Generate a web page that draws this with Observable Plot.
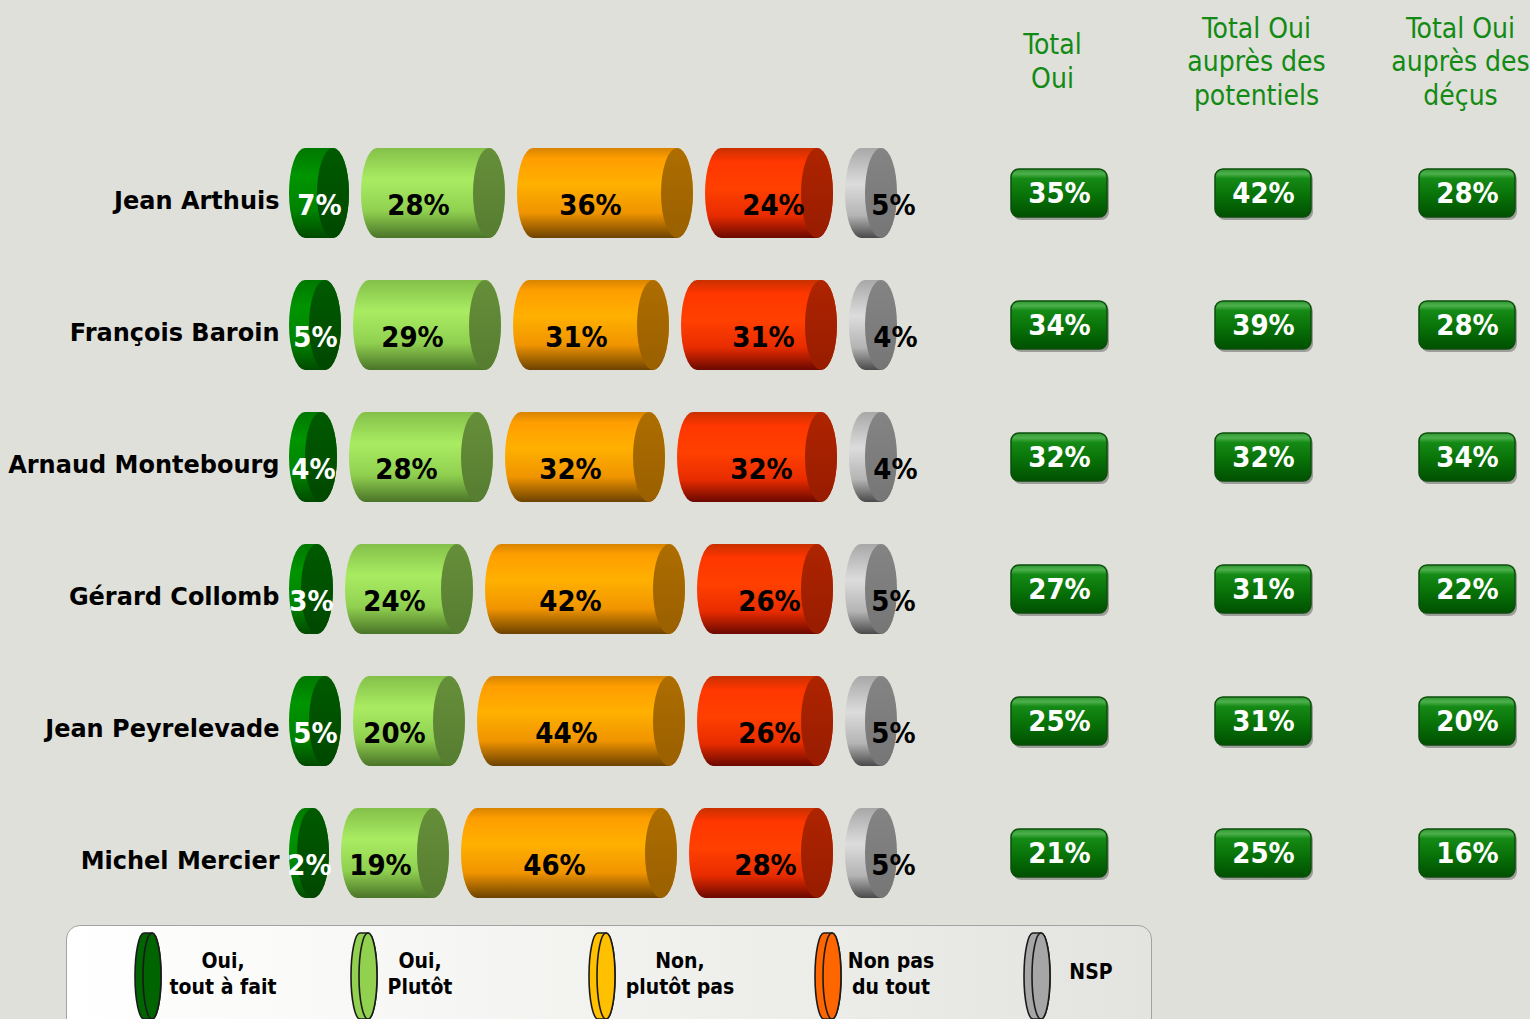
<!DOCTYPE html>
<html>
<head>
<meta charset="utf-8">
<script src="https://cdn.jsdelivr.net/npm/d3@7"></script>
<script src="https://cdn.jsdelivr.net/npm/@observablehq/plot@0.6"></script>
<style>
html, body { margin: 0; padding: 0; background: #dfe0da; overflow: hidden; }
#page { position: relative; width: 1530px; height: 1019px; background: #dfe0da; font-family: "DejaVu Sans", sans-serif; overflow: hidden; }
#bars { position: absolute; left: 0; top: 0; }
#totals { position: absolute; left: 950px; top: 0; }
#legend { position: absolute; left: 66px; top: 925px; width: 1084px; height: 130px; border: 1.5px solid #a3a3a3; border-radius: 14px;
  background: linear-gradient(to right, #ffffff 0%, #f6f6f4 35%, #e3e3df 100%); }
.lg-icon { position: absolute; top: 931px; }
.lg-text { position: absolute; width: 180px; text-align: center; font-family: "DejaVu Sans Condensed", "DejaVu Sans", sans-serif; font-stretch: condensed;
  font-weight: bold; font-size: 21px; line-height: 26px; color: #000; }
</style>
</head>
<body>
<svg width="0" height="0" style="position:absolute">
  <defs>
    <linearGradient id="body0" x1="0" y1="0" x2="0" y2="1">
      <stop offset="0" stop-color="#007800"/><stop offset="0.3" stop-color="#009400"/><stop offset="0.7" stop-color="#008200"/><stop offset="1" stop-color="#004a00"/>
    </linearGradient>
    <linearGradient id="cap0" x1="0" y1="0" x2="0" y2="1">
      <stop offset="0" stop-color="#005a00"/><stop offset="1" stop-color="#004800"/>
    </linearGradient>
    <linearGradient id="body1" x1="0" y1="0" x2="0" y2="1">
      <stop offset="0" stop-color="#84c04a"/><stop offset="0.35" stop-color="#a9ec62"/><stop offset="0.7" stop-color="#90d050"/><stop offset="1" stop-color="#4a7428"/>
    </linearGradient>
    <linearGradient id="cap1" x1="0" y1="0" x2="0" y2="1">
      <stop offset="0" stop-color="#668f3a"/><stop offset="1" stop-color="#567d30"/>
    </linearGradient>
    <linearGradient id="body2" x1="0" y1="0" x2="0" y2="1">
      <stop offset="0" stop-color="#d88400"/><stop offset="0.12" stop-color="#ff9e00"/><stop offset="0.4" stop-color="#ffb000"/><stop offset="0.72" stop-color="#f09400"/><stop offset="1" stop-color="#6c4200"/>
    </linearGradient>
    <linearGradient id="cap2" x1="0" y1="0" x2="0" y2="1">
      <stop offset="0" stop-color="#ad6d00"/><stop offset="1" stop-color="#9a6000"/>
    </linearGradient>
    <linearGradient id="body3" x1="0" y1="0" x2="0" y2="1">
      <stop offset="0" stop-color="#c83000"/><stop offset="0.15" stop-color="#ff3600"/><stop offset="0.45" stop-color="#ff4000"/><stop offset="0.75" stop-color="#e82c00"/><stop offset="1" stop-color="#6a0800"/>
    </linearGradient>
    <linearGradient id="cap3" x1="0" y1="0" x2="0" y2="1">
      <stop offset="0" stop-color="#ae2400"/><stop offset="1" stop-color="#981c00"/>
    </linearGradient>
    <linearGradient id="body4" x1="0" y1="0" x2="0" y2="1">
      <stop offset="0" stop-color="#a8a8a8"/><stop offset="0.4" stop-color="#dcdcdc"/><stop offset="0.75" stop-color="#b4b4b4"/><stop offset="1" stop-color="#4a4a4a"/>
    </linearGradient>
    <linearGradient id="cap4" x1="0" y1="0" x2="0" y2="1">
      <stop offset="0" stop-color="#848484"/><stop offset="1" stop-color="#767676"/>
    </linearGradient>
    <linearGradient id="btn" x1="0" y1="0" x2="0" y2="1">
      <stop offset="0" stop-color="#2f962f"/><stop offset="0.1" stop-color="#4cb04c"/><stop offset="0.2" stop-color="#158a15"/><stop offset="0.55" stop-color="#087208"/><stop offset="1" stop-color="#005000"/>
    </linearGradient>
  </defs>
</svg>
<div id="page">
  <div id="legend"></div>
  <div id="bars"></div>
  <div id="totals"></div>
</div>
<script>
// ---- data ----
const names = ["Jean Arthuis", "François Baroin", "Arnaud Montebourg", "Gérard Collomb", "Jean Peyrelevade", "Michel Mercier"];
const categories = ["Oui, tout à fait", "Oui, Plutôt", "Non, plutôt pas", "Non pas du tout", "NSP"];
const legendLabels = ["Oui,\ntout à fait", "Oui,\nPlutôt", "Non,\nplutôt pas", "Non pas\ndu tout", "NSP"];
const legendColors = ["#006400", "#92d050", "#ffc000", "#ff6600", "#a6a6a6"];
const toutAFait = [7, 5, 4, 3, 5, 2];
const plutot = [28, 29, 28, 24, 20, 19];
const plutotPas = [36, 31, 32, 42, 44, 46];
const pasDuTout = [24, 31, 32, 26, 26, 28];
const nsp = [5, 4, 4, 5, 5, 5];
const totalColumns = ["Total Oui", "Total Oui auprès des potentiels", "Total Oui auprès des déçus"];
const totalHeaders = ["Total\nOui", "Total Oui\nauprès des\npotentiels", "Total Oui\nauprès des\ndéçus"];
const totalOui = [35, 34, 32, 27, 25, 21];
const totalOuiPotentiels = [42, 39, 32, 31, 31, 25];
const totalOuiDecus = [28, 28, 34, 22, 20, 16];

// ---- build tables ----
const series = [toutAFait, plutot, plutotPas, pasDuTout, nsp];
const CAP = 8;   // cylinder end-cap width, in value units
const GAP = 3;   // gap between cylinders, in value units
const segs = [];
names.forEach((name, i) => {
  let x = 0;
  series.forEach((s, k) => {
    const v = s[i];
    segs.push({name, k, cat: categories[k], v, x1: x, x2: x + v + CAP});
    x += v + CAP + GAP;
  });
});
const totalsData = [];
const totalsSeries = [totalOui, totalOuiPotentiels, totalOuiDecus];
names.forEach((name, i) => totalsSeries.forEach((arr, j) => totalsData.push({name, col: totalColumns[j], v: arr[i]})));

const condensed = '"DejaVu Sans Condensed", "DejaVu Sans", sans-serif';
const yScale = {type: "band", domain: names, padding: 0.318, axis: null};

// ---- bars plot ----
const labelStyle = [
  {fill: "white", dx: 0},
  {fill: "black", dx: -15},
  {fill: "black", dx: -15},
  {fill: "black", dx: 4},
  {fill: "black", dx: 22}
];
const barMarks = [];
categories.forEach((c, k) => {
  const d = segs.filter(s => s.k === k);
  barMarks.push(Plot.barX(d, {x1: "x1", x2: "x2", y: "name", fill: `url(#body${k})`, rx: 16, ry: 45}));
  barMarks.push(Plot.barX(d, {x1: s => s.x2 - CAP, x2: "x2", y: "name", fill: `url(#cap${k})`, rx: 16, ry: 45}));
});
categories.forEach((c, k) => {
  const d = segs.filter(s => s.k === k);
  barMarks.push(Plot.text(d, {
    x: s => (s.x1 + s.x2) / 2, y: "name", text: s => s.v + "%",
    fill: labelStyle[k].fill, dx: labelStyle[k].dx, dy: 12,
    fontSize: 29, fontWeight: "bold", fontFamily: condensed
  }));
});
barMarks.push(Plot.text(names, {
  y: d => d, text: d => d, frameAnchor: "left", textAnchor: "end", dx: -10, dy: 8,
  fontSize: 24, fontWeight: "bold", fill: "black"
}));

const bars = Plot.plot({
  width: 940, height: 940,
  marginTop: 106, marginBottom: 0, marginLeft: 289, marginRight: 43,
  style: {background: "transparent", fontFamily: '"DejaVu Sans", sans-serif', overflow: "visible"},
  x: {domain: [0, d3.max(segs, s => s.x2)], axis: null},
  y: yScale,
  marks: barMarks
});
document.getElementById("bars").appendChild(bars);

// ---- totals plot ----
const totals = Plot.plot({
  width: 580, height: 940,
  marginTop: 106, marginBottom: 0, marginLeft: 61, marginRight: 15,
  style: {background: "transparent", fontFamily: condensed, overflow: "visible"},
  x: {type: "band", domain: totalColumns, paddingInner: 0.53, paddingOuter: 0, axis: null},
  y: yScale,
  marks: [
    Plot.cell(totalsData, {x: "col", y: "name", insetTop: 21, insetBottom: 21, dx: 2, dy: 3, fill: "#3a3a3a", fillOpacity: 0.4, rx: 8}),
    Plot.cell(totalsData, {x: "col", y: "name", insetTop: 21, insetBottom: 21, fill: "url(#btn)", stroke: "#0b4d0b", strokeWidth: 1.5, rx: 8}),
    Plot.text(totalsData, {x: "col", y: "name", text: d => d.v + "%", fill: "white", fontSize: 29, fontWeight: "bold", fontFamily: condensed}),
    Plot.text(totalColumns, {
      x: d => d, text: (d, i) => totalHeaders[i], frameAnchor: "top", dy: -46, dx: -7,
      lineAnchor: "middle", lineHeight: 1.2, fontSize: 28, fill: "#138a13", fontFamily: condensed
    })
  ]
});
document.getElementById("totals").appendChild(totals);

// ---- legend ----
const page = document.getElementById("page");
const iconX = [134, 350, 588, 814, 1023];
const textX = [223, 420, 680, 891, 1091];
legendLabels.forEach((lab, k) => {
  const ns = "http://www.w3.org/2000/svg";
  const svg = document.createElementNS(ns, "svg");
  svg.setAttribute("width", 30); svg.setAttribute("height", 90);
  svg.setAttribute("class", "lg-icon");
  svg.style.left = iconX[k] + "px";
  svg.innerHTML = `
    <path d="M10,2 L18,2 A9,43 0 0 1 18,88 L10,88 A9,43 0 0 1 10,2 Z" fill="${legendColors[k]}" stroke="#1a1a1a" stroke-width="1.6"/>
    <ellipse cx="18" cy="45" rx="9" ry="43" fill="${legendColors[k]}" stroke="#1a1a1a" stroke-width="1.6"/>`;
  page.appendChild(svg);
  const t = document.createElement("div");
  t.className = "lg-text";
  const lines = lab.split("\n");
  t.innerHTML = lines.join("<br>");
  t.style.left = (textX[k] - 90) + "px";
  t.style.top = (lines.length === 1 ? 959 : 948) + "px";
  page.appendChild(t);
});
</script>
</body>
</html>
